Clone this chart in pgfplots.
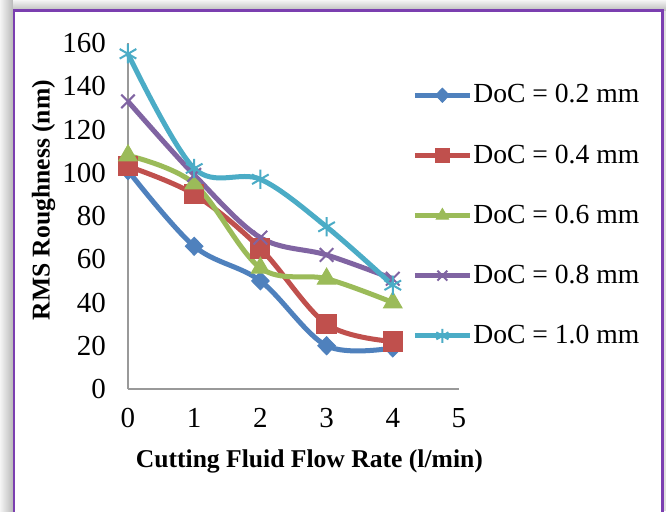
\documentclass[border=0pt]{standalone}
\usepackage{fontspec}
\setmainfont{Liberation Serif}
\usepackage{pgfplots}
\pgfplotsset{compat=1.18}
\usetikzlibrary{shadings}

\definecolor{c1}{HTML}{4F81BD}
\definecolor{c2}{HTML}{C0504D}
\definecolor{c3}{HTML}{9BBB59}
\definecolor{c4}{HTML}{8064A2}
\definecolor{c5}{HTML}{4BACC6}
\definecolor{frame}{HTML}{7B3FB0}

\begin{document}
\begin{tikzpicture}
% 1 px of the reference = 0.5pt
\clip (0,0) rectangle (333pt,-255.5pt);
\fill[gray!25] (0,0) rectangle (333pt,-255.5pt);
\shade[left color=gray!8, right color=gray!55] (0,0) rectangle (6.5pt,-255.5pt);
\shade[top color=gray!8, bottom color=gray!50] (6.5pt,0) rectangle (333pt,-5pt);
\filldraw[fill=white, draw=frame, line width=1.3pt] (7pt,-5.2pt) rectangle (331.2pt,-262pt);

\begin{axis}[
    at={(64pt,-194.5pt)}, anchor=south west,
    scale only axis,
    width=165.5pt, height=173pt,
    xmin=0, xmax=5, ymin=0, ymax=160,
    xtick={0,1,2,3,4,5},
    ytick={0,20,40,60,80,100,120,140,160},
    axis lines=left,
    axis line style={-, draw=gray!80, line width=0.8pt},
    major tick length=0pt,
    tick label style={font=\fontsize{14.5}{16}\selectfont},
    /pgf/number format/assume math mode=true,
    xticklabel style={yshift=-6pt},
    yticklabel style={xshift=-7.5pt},
    xlabel={\textbf{Cutting Fluid Flow Rate (l/min)}},
    ylabel={\textbf{RMS Roughness (nm)}},
    label style={font=\fontsize{12.8}{14}\selectfont},
    xlabel style={at={(axis description cs:0.548,-0.21)}, anchor=center},
    ylabel style={at={(axis description cs:-0.255,0.546)}, anchor=center},
    clip=false,
    legend cell align=left,
    legend style={draw=none, fill=none, at={(0.858,0.884)}, anchor=north west,
        font=\fontsize{13.8}{15}\selectfont, row sep=18.4pt, inner sep=0pt,
        nodes={inner sep=0.5pt},
        /tikz/every even column/.append style={column sep=-4pt}},
    legend image code/.code={
        \draw[mark repeat=2, mark phase=2, mark size=3.5pt]
        plot coordinates {(0pt,0pt) (13.75pt,0pt) (27.5pt,0pt)};},
    every axis plot/.append style={line width=2.5pt, smooth, tension=0.55},
]
\addplot[c1, mark=diamond*, mark size=4.5pt, mark options={solid, fill=c1, line width=0.5pt, xscale=1.3}]
    coordinates {(0,101) (1,66) (2,50) (3,20) (4,19)};
\addlegendentry{DoC = 0.2 mm}
\addplot[c2, mark=square*, mark size=4.8pt, mark options={solid, fill=c2, line width=0.5pt}]
    coordinates {(0,103) (1,90) (2,65) (3,30) (4,22)};
\addlegendentry{DoC = 0.4 mm}
\addplot[c3, mark=triangle*, mark size=5.3pt, mark options={solid, fill=c3, line width=0.5pt}]
    coordinates {(0,108) (1,95) (2,56) (3,51) (4,40)};
\addlegendentry{DoC = 0.6 mm}
\addplot[c4, mark=x, mark size=4.8pt, mark options={solid, line width=1pt}]
    coordinates {(0,133) (1,99) (2,70) (3,62) (4,51)};
\addlegendentry{DoC = 0.8 mm}
\addplot[c5, mark=asterisk, mark size=4.8pt, mark options={solid, line width=1pt}]
    coordinates {(0,155) (1,102) (2,97) (3,75) (4,48)};
\addlegendentry{DoC = 1.0 mm}
\end{axis}
\end{tikzpicture}
\end{document}
